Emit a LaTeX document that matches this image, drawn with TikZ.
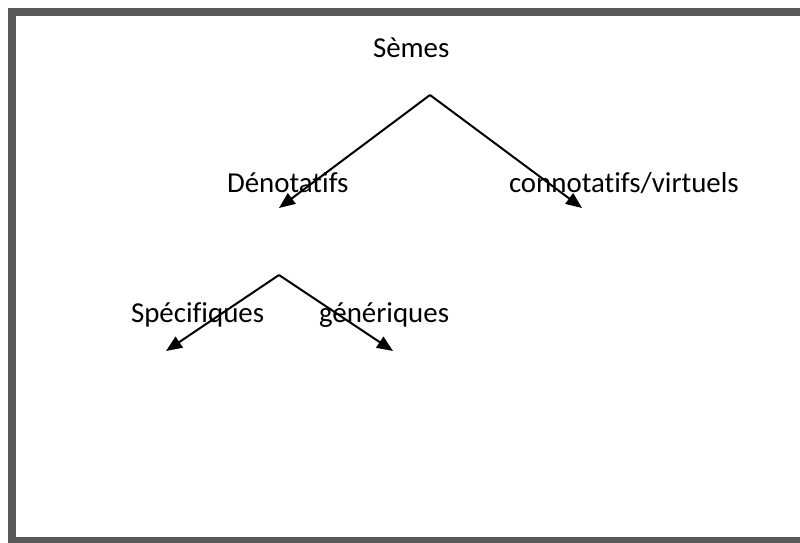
\documentclass[tikz,border=0pt]{standalone}
\usepackage{fontspec}
\setmainfont[Ligatures=CommonOff]{Carlito}
\usetikzlibrary{arrows.meta, positioning}
\definecolor{framegray}{HTML}{595959}

\begin{document}
\begin{tikzpicture}[x=1bp, y=-1bp, line width=2bp,
	every node/.style={font=\fontsize{29}{34}\selectfont, inner sep=0pt, anchor=base west},
	branch/.style={-{Triangle[length=16bp, width=13bp]}}]
				\useasboundingbox (0,0) rectangle (800,543);
				\draw[line width=8bp, framegray] (800,12) -- (12,12) -- (12,541) -- (800,541);

				\node (semes) at (372,58) {Sèmes};
				\node (denot) at (226,193) {Dénotatifs};
				\node (connot) at (508,193) {connotatifs/virtuels};
				\node (specif) at (130,322) {Spécifiques};
				\node (gener) at (318,322) {génériques};

				\coordinate (top1) at (430,95);
				\coordinate (left1) at (279,208);
				\coordinate (right1) at (582,208);
				\coordinate (top2) at (279,275);
				\coordinate (left2) at (166,351);
				\coordinate (right2) at (393,351);

				\draw[branch] (top1) -- (left1);
				\draw[branch] (top1) -- (right1);
				\draw[branch] (top2) -- (left2);
				\draw[branch] (top2) -- (right2);
\end{tikzpicture}
\end{document}
